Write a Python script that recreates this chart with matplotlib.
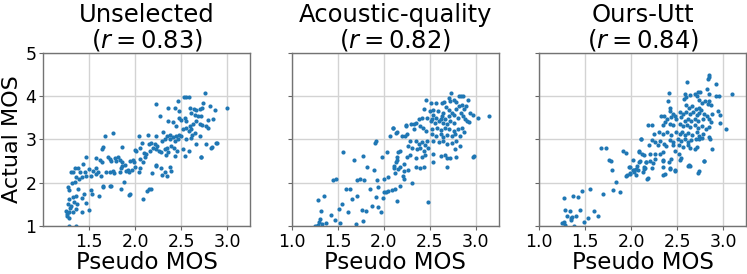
import matplotlib
matplotlib.use("Agg")
import matplotlib.pyplot as plt

titles = ["Unselected", "Acoustic-quality", "Ours-Utt"]
r_values = ["0.83", "0.82", "0.84"]
xlabel = "Pseudo MOS"
ylabel = "Actual MOS"

# Panel 1: Unselected
unsel_x = [1.67,1.76,2.04,2.14,1.65,1.64,1.86,2.00,2.07,2.15,2.09,2.12,2.16,
           1.46,1.57,1.62,1.64,1.70,1.72,1.74,1.78,1.79,1.81,1.83,1.86,1.89,1.94,1.97,1.99,2.05,2.08,2.11,
           1.43,1.34,1.38,1.40,1.30,1.32,1.45,1.50,1.54,1.57,1.59,1.57,1.68,1.72,1.76,1.77,1.83,1.85,1.90,1.93,1.96,2.00,2.04,2.05,
           1.35,1.39,1.42,1.46,1.52,1.63,1.34,1.31,1.27,1.28,1.38,1.44,1.52,1.53,1.65,1.74,1.88,1.93,2.08,2.15,
           1.28,1.32,1.35,1.42,1.46,1.27,1.29,1.36,1.28,1.26,1.28,1.32,1.37,1.42,1.50,1.28,1.35,1.26,1.30,1.33,1.25,
           2.76,2.53,2.55,2.58,2.46,2.23,2.74,2.36,2.43,2.48,2.59,2.64,2.66,2.70,2.73,2.81,2.87,3.00,
           2.27,2.61,2.65,2.68,2.71,2.47,2.50,2.54,2.55,2.36,2.41,2.44,2.79,2.84,2.66,2.70,2.73,2.63,2.59,
           2.61,2.58,2.55,2.52,2.65,2.62,2.77,2.79,
           2.30,2.23,2.34,2.38,2.41,2.44,2.47,2.50,2.46,2.43,2.38,2.32,2.29,
           2.55,2.61,2.70,2.66,2.77,2.83,2.89,
           2.17,2.21,2.24,2.19,2.23,2.26,2.28,2.32,2.35,2.39,2.42,2.45,2.36,2.33,
           2.52,2.58,2.54,2.43,2.71,
           2.22,2.18,2.32,2.38,2.39,2.29,
           2.88,2.82,2.71,2.28,2.23,2.34,2.05,2.01,2.13,2.17,1.86,1.92,1.94,1.85,1.73,1.65,1.60]
unsel_y = [3.08,3.15,3.08,3.09,2.83,2.77,2.83,2.76,2.91,2.89,2.69,2.66,2.73,
           2.58,2.56,2.53,2.47,2.60,2.54,2.50,2.56,2.50,2.59,2.53,2.48,2.40,2.50,2.53,2.47,2.54,2.47,2.58,
           2.43,2.33,2.33,2.24,2.25,2.24,2.24,2.31,2.27,2.33,2.24,2.20,2.24,2.25,2.27,2.22,2.25,2.33,2.27,2.24,2.30,2.35,2.24,2.33,
           2.12,2.08,2.12,2.16,2.16,2.16,2.02,1.98,1.89,1.82,1.85,1.74,1.82,1.74,1.92,1.93,2.01,1.72,1.63,1.85,
           1.61,1.66,1.70,1.64,1.53,1.51,1.41,1.38,1.32,1.23,1.18,1.32,1.51,1.32,1.36,1.00,1.00,1.28,1.45,1.55,1.35,
           4.08,3.98,3.97,3.98,3.89,3.82,3.83,3.73,3.73,3.66,3.73,3.70,3.68,3.70,3.72,3.76,3.68,3.73,
           3.55,3.61,3.57,3.53,3.55,3.49,3.45,3.49,3.43,3.43,3.40,3.30,3.45,3.47,3.42,3.36,3.34,3.36,3.30,
           3.23,3.19,3.27,3.23,3.15,3.11,3.30,3.27,
           3.17,3.08,3.08,3.11,3.05,3.08,3.11,3.08,3.00,2.96,3.00,3.00,2.95,
           3.00,3.04,3.08,2.90,2.89,2.83,2.91,
           2.92,2.89,2.85,2.81,2.77,2.73,2.70,2.77,2.81,2.85,2.81,2.73,2.70,2.64,
           2.77,2.73,2.62,2.62,2.60,
           2.41,2.22,2.24,2.37,2.27,2.17,
           2.91,2.80,2.59,2.34,2.39,2.16,2.80,2.72,1.80,1.86,2.38,2.30,1.73,1.84,1.92,1.90,1.69]

# Panel 2: Acoustic-quality
acou_x = [2.73,2.82,2.84,2.86,2.71,2.72,2.76,2.79,2.46,2.52,2.57,2.63,2.66,2.92,
          2.85,2.82,2.79,2.87,2.90,2.44,2.50,2.54,2.59,2.68,2.71,2.74,2.77,
          3.03,2.94,2.97,3.14,2.84,2.86,2.81,2.88,2.65,2.63,2.62,2.67,2.71,
          2.54,2.57,2.53,2.47,2.42,2.38,2.52,2.56,2.60,2.65,2.69,2.72,2.76,2.91,2.93,
          2.24,2.30,2.35,2.39,2.33,2.43,2.46,2.53,2.58,2.62,2.67,2.71,2.76,2.81,2.85,
          2.10,2.15,2.20,2.25,2.53,2.57,2.62,2.65,2.69,2.74,2.78,2.83,2.87,
          2.54,2.60,2.65,2.69,2.74,2.79,2.29,2.35,2.38,2.42,2.45,2.47,
          2.27,2.31,2.36,2.40,2.44,2.48,2.18,2.15,2.25,2.29,2.35,2.42,2.45,
          2.54,2.62,2.67,2.72,2.78,2.83,2.79,2.69,2.98,
          2.13,2.18,2.35,2.40,2.44,2.54,2.69,2.11,2.22,2.97,
          1.91,1.92,2.07,2.13,2.10,2.23,2.24,2.33,1.56,1.68,1.77,1.82,1.89,1.98,2.04,
          2.16,2.14,2.11,2.16,2.12,2.22,2.21,2.22,2.26,2.31,
          1.45,1.48,1.59,1.63,1.71,1.74,1.79,1.85,1.94,2.00,2.05,1.93,
          1.99,2.03,2.05,2.09,2.12,2.18,2.15,2.48,
          1.29,1.35,1.32,1.43,1.47,1.51,1.55,1.61,1.66,1.71,
          1.76,1.81,1.87,1.92,1.94,1.97,2.00,
          1.70,1.78,1.53,1.37,1.27,1.30,1.31,1.33,1.25,1.29]
acou_y = [4.08,4.00,4.00,4.00,3.95,3.89,3.92,3.87,3.91,3.83,3.85,3.83,3.87,3.92,
          3.80,3.76,3.70,3.70,3.76,3.70,3.65,3.67,3.65,3.74,3.68,3.62,3.57,
          3.50,3.61,3.57,3.53,3.61,3.55,3.50,3.46,3.61,3.53,3.47,3.47,3.53,
          3.57,3.50,3.46,3.50,3.50,3.46,3.42,3.38,3.42,3.38,3.35,3.42,3.38,3.42,3.40,
          3.33,3.35,3.38,3.31,3.25,3.27,3.20,3.23,3.27,3.22,3.27,3.23,3.20,3.23,3.27,
          3.27,3.17,3.08,3.12,3.12,3.07,3.12,3.05,3.10,3.07,3.12,3.08,3.17,
          2.97,2.93,2.97,2.89,2.92,2.95,2.97,2.95,2.89,2.93,2.87,2.97,
          2.84,2.80,2.78,2.80,2.74,2.80,2.72,2.59,2.59,2.63,2.56,2.59,2.63,
          2.67,2.62,2.63,2.56,2.77,2.84,2.59,2.56,2.62,
          2.47,2.37,2.35,2.33,2.37,2.48,2.35,2.33,2.27,2.59,
          2.91,2.97,3.07,3.14,3.26,3.08,3.31,3.36,2.70,2.52,2.62,2.36,2.30,2.58,2.70,
          2.70,2.53,2.39,2.32,2.22,2.42,2.15,2.09,2.29,1.98,
          2.07,2.09,1.86,1.86,2.07,2.09,2.06,1.84,1.90,2.09,2.13,2.07,
          1.65,1.77,1.80,1.82,1.86,1.93,1.57,1.54,
          1.59,1.69,1.35,1.25,1.13,1.38,1.50,1.32,1.63,1.69,
          1.37,1.35,1.46,1.67,1.44,1.32,1.77,
          1.04,1.11,1.06,1.06,1.00,1.09,1.15,1.04,1.00,1.01]

# Panel 3: Ours-Utt
ours_x = [2.85,2.84,2.83,2.61,2.92,2.82,2.73,2.75,2.41,2.58,2.60,2.57,2.64,2.69,2.71,
          2.85,2.92,2.95,3.09,2.74,2.77,2.80,2.85,2.83,2.40,2.42,2.42,2.45,
          2.59,2.63,2.66,2.70,2.74,2.76,2.87,2.53,2.56,2.60,2.64,2.67,2.71,2.74,2.79,2.82,
          2.88,2.96,2.94,2.32,2.36,2.39,2.43,2.47,2.49,
          2.54,2.58,2.62,2.65,2.69,2.73,2.78,2.85,2.87,2.96,2.37,2.34,2.42,2.45,2.18,2.22,
          2.53,2.56,2.61,2.64,2.69,2.73,2.77,2.81,2.85,3.03,
          2.25,2.30,2.34,2.39,2.43,2.49,2.53,2.55,2.58,2.62,2.66,2.71,2.74,2.78,2.84,2.86,2.11,
          2.23,2.26,2.31,2.36,2.42,2.45,2.51,2.54,2.58,2.62,2.65,2.70,2.74,2.77,
          2.19,2.29,2.38,2.45,2.52,2.56,2.62,2.64,2.69,2.71,2.88,2.08,2.12,
          2.20,2.26,2.31,2.34,2.47,2.52,2.54,2.53,2.02,2.08,2.16,2.20,2.24,2.26,
          2.35,2.41,2.43,2.63,2.79,1.99,2.05,2.14,2.23,2.35,2.42,2.47,2.64,2.74,
          1.67,1.73,1.91,1.94,1.76,1.78,1.79,1.83,1.80,1.88,1.69,1.55,1.46,1.37,1.42,1.27,
          1.28,1.33,1.44,1.59,1.64,1.53,1.49,1.30,1.34,1.36,1.40,1.34,1.27,1.25,1.28,1.38,
          2.11,2.08,2.14,2.09,2.15,2.16,1.97,2.02,2.06,2.03,2.05,1.99,1.95,2.13,2.18,
          1.94,1.99,2.03,2.07,2.14,2.17,2.34,2.37,2.42,2.48,2.62,2.73,2.79,2.34]
ours_y = [4.49,4.44,4.39,4.32,4.27,4.17,4.09,4.09,4.08,4.04,3.98,3.94,4.02,4.06,4.00,
          4.06,4.00,4.00,4.06,3.92,3.85,3.89,3.89,3.81,3.89,3.73,3.66,3.58,
          3.79,3.73,3.77,3.70,3.73,3.68,3.79,3.64,3.58,3.64,3.58,3.64,3.56,3.61,3.58,3.55,
          3.58,3.56,3.66,3.53,3.55,3.47,3.51,3.55,3.47,
          3.51,3.43,3.48,3.43,3.48,3.43,3.47,3.48,3.39,3.38,3.39,3.33,3.36,3.33,3.32,3.32,
          3.36,3.30,3.33,3.28,3.33,3.26,3.30,3.23,3.28,3.24,
          3.13,3.18,3.13,3.17,3.11,3.17,3.13,3.18,3.09,3.15,3.11,3.17,3.08,3.13,3.05,3.00,3.00,
          2.98,2.94,2.95,2.90,2.98,2.94,3.00,2.95,3.00,2.94,2.98,3.00,3.00,3.03,
          2.88,2.88,2.85,2.86,2.86,2.83,2.86,2.79,2.77,2.83,2.77,2.73,2.65,
          2.67,2.65,2.67,2.71,2.73,2.67,2.56,2.52,2.52,2.48,2.47,2.50,2.45,2.55,
          2.50,2.48,2.55,2.41,2.50,2.37,2.32,2.35,2.33,2.35,2.33,2.30,2.39,2.27,
          2.79,2.79,2.72,2.69,2.53,2.51,2.29,2.01,1.82,1.78,1.74,1.85,1.81,1.70,1.66,1.64,
          1.36,1.34,1.36,1.34,1.23,1.19,1.09,1.22,1.19,1.21,1.22,1.13,1.09,1.07,1.02,1.00,
          3.00,2.71,2.64,2.49,2.33,2.47,2.35,2.30,2.39,2.25,2.18,2.21,2.18,2.24,2.10,
          2.16,2.19,2.29,2.30,2.32,2.09,2.17,2.19,2.32,2.26,2.38,2.22,2.49,2.53]

series_x = [unsel_x, acou_x, ours_x]
series_y = [unsel_y, acou_y, ours_y]
xticks_first = [1.5, 2.0, 2.5, 3.0]
xticks_other = [1.0, 1.5, 2.0, 2.5, 3.0]
yticks = [1, 2, 3, 4, 5]

fig = plt.figure(figsize=(7.47, 2.74), dpi=100)
lefts = [0.058, 0.3905, 0.722]
axes = []
for i in range(3):
    ax = fig.add_axes([lefts[i], 0.176, 0.277, 0.631],
                      sharey=axes[0] if axes else None)
    axes.append(ax)
    ax.set_axisbelow(True)
    ax.grid(True, color="#d3d3d3", linewidth=1.0)
    ax.scatter(series_x[i], series_y[i], s=9, color="#1f77b4", linewidths=0)
    ax.set_xlim(1.0, 3.25)
    ax.set_ylim(1, 5)
    ax.set_xticks(xticks_first if i == 0 else xticks_other)
    ax.set_yticks(yticks)
    ax.tick_params(labelsize=12.5, length=3, color="0.4", pad=2)
    for sp in ax.spines.values():
        sp.set_color("0.45")
        sp.set_linewidth(1.0)
    ax.set_title(f"{titles[i]}\n($r = {r_values[i]}$)", fontsize=17.5,
                 pad=3, linespacing=1.0)
    ax.set_xlabel(xlabel, fontsize=16.5, labelpad=0)
    if i == 0:
        ax.set_ylabel(ylabel, fontsize=16)
        ax.yaxis.set_label_coords(-0.105, 0.5)
    else:
        ax.tick_params(labelleft=False)

fig.savefig("out.png", dpi=100)
